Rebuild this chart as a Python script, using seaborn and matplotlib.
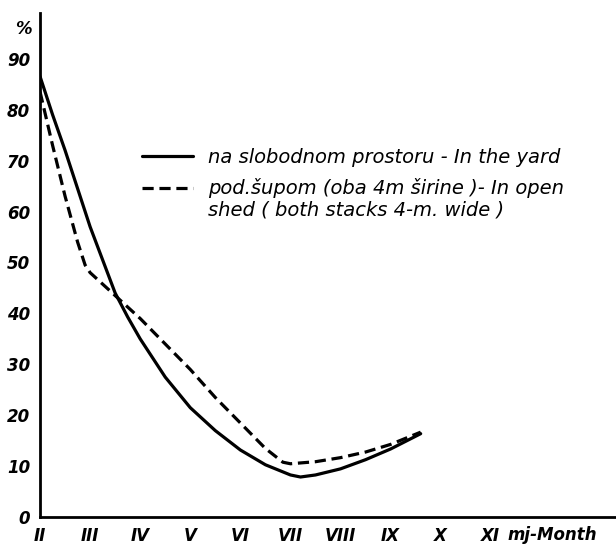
import matplotlib
matplotlib.use("Agg")
import matplotlib.pyplot as plt
import matplotlib.transforms as mtransforms
from matplotlib.lines import Line2D
from matplotlib.legend_handler import HandlerLine2D
import seaborn as sns
import pandas as pd

# ---- data ----
month_labels = ["II", "III", "IV", "V", "VI", "VII", "VIII", "IX", "X", "XI"]
month_pos = [2, 3, 4, 5, 6, 7, 8, 9, 10, 11]

yard_x = [2.0, 2.25, 2.5, 2.75, 3.0, 3.25, 3.5, 3.75, 4.0, 4.5, 5.0, 5.5, 6.0, 6.5, 7.0, 7.2, 7.5, 8.0, 8.5, 9.0, 9.3, 9.6]
yard_y = [86.5, 79, 72, 64.5, 57, 50.5, 44, 39.3, 35, 27.5, 21.5, 17, 13.2, 10.3, 8.3, 7.9, 8.3, 9.5, 11.3, 13.4, 14.9, 16.4]

shed_x = [2.0, 2.25, 2.5, 2.75, 2.9, 3.0, 3.5, 4.0, 4.5, 5.0, 5.5, 6.0, 6.5, 6.85, 7.0, 7.5, 8.0, 8.5, 9.0, 9.6]
shed_y = [83.5, 73, 63, 54, 49.5, 48, 43.5, 39, 34, 29, 23.5, 18.5, 13.5, 10.8, 10.5, 10.9, 11.7, 12.8, 14.3, 16.7]

label_yard = "na slobodnom prostoru - In the yard"
label_shed = "pod.šupom (oba 4m širine )- In open\nshed ( both stacks 4-m. wide )"

df = pd.concat([
    pd.DataFrame({"month": yard_x, "pct": yard_y, "series": "yard"}),
    pd.DataFrame({"month": shed_x, "pct": shed_y, "series": "shed"}),
], ignore_index=True)

sns.set_style("white")
plt.rcParams["font.family"] = ["DejaVu Sans"]
plt.rcParams["text.color"] = "black"
plt.rcParams["xtick.color"] = "black"
plt.rcParams["ytick.color"] = "black"
plt.rcParams["axes.labelcolor"] = "black"

fig = plt.figure(figsize=(6.16, 5.55), dpi=100)
ax = fig.add_axes([0.065, 0.068, 0.935, 0.909])

sns.lineplot(data=df, x="month", y="pct", style="series", color="black",
             dashes={"yard": "", "shed": (3.5, 1.8)}, linewidth=2.3,
             legend=False, ax=ax, sort=False)

ax.set_xlim(2, 13.5)
ax.set_ylim(0, 99)
ax.set_xticks(month_pos)
ax.set_xticklabels(month_labels)
ax.set_yticks(range(0, 100, 10))
ax.set_yticklabels([str(v) for v in range(0, 100, 10)])
ax.set_xlabel("")
ax.set_ylabel("")

for s in ["top", "right"]:
    ax.spines[s].set_visible(False)
for s in ["left", "bottom"]:
    ax.spines[s].set_linewidth(2.0)
    ax.spines[s].set_color("black")

ax.tick_params(axis="both", direction="out", length=4, width=1.5, colors="black",
               labelsize=12, pad=3)
for lab in ax.get_xticklabels() + ax.get_yticklabels():
    lab.set_fontstyle("italic")
    lab.set_fontweight("bold")

ax.text(-0.015, 95.8, "%", transform=ax.get_yaxis_transform(), ha="right", va="center",
        fontsize=12, fontstyle="italic", fontweight="bold")
ax.text(11.34, -0.017, "mj-Month", transform=ax.get_xaxis_transform(), ha="left", va="top",
        fontsize=12, fontstyle="italic", fontweight="bold")


class FirstLineHandler(HandlerLine2D):
    """Align the legend handle with the first line of a two-line label."""
    def __init__(self, shift_pt, **kw):
        super().__init__(**kw)
        self.shift_pt = shift_pt

    def create_artists(self, legend, orig_handle, xdescent, ydescent, width, height,
                       fontsize, trans):
        t = mtransforms.Affine2D().translate(0, self.shift_pt * legend.figure.dpi / 72.0) + trans
        return super().create_artists(legend, orig_handle, xdescent, ydescent, width,
                                      height, fontsize, t)


h_yard = Line2D([], [], color="black", lw=2.3)
h_shed = Line2D([], [], color="black", lw=2.3, dashes=(3.5, 1.8))
leg = ax.legend([h_yard, h_shed], [label_yard, label_shed], loc="upper left",
                bbox_to_anchor=(0.177, 0.732), frameon=False, handlelength=2.6,
                handletextpad=0.8, labelspacing=0.55, borderpad=0, borderaxespad=0,
                handler_map={h_shed: FirstLineHandler(5.8)},
                prop={"size": 14, "style": "italic"})
for t in leg.get_texts():
    t.set_color("black")
    t.set_linespacing(1.2)

fig.savefig("out.png", dpi=100)
